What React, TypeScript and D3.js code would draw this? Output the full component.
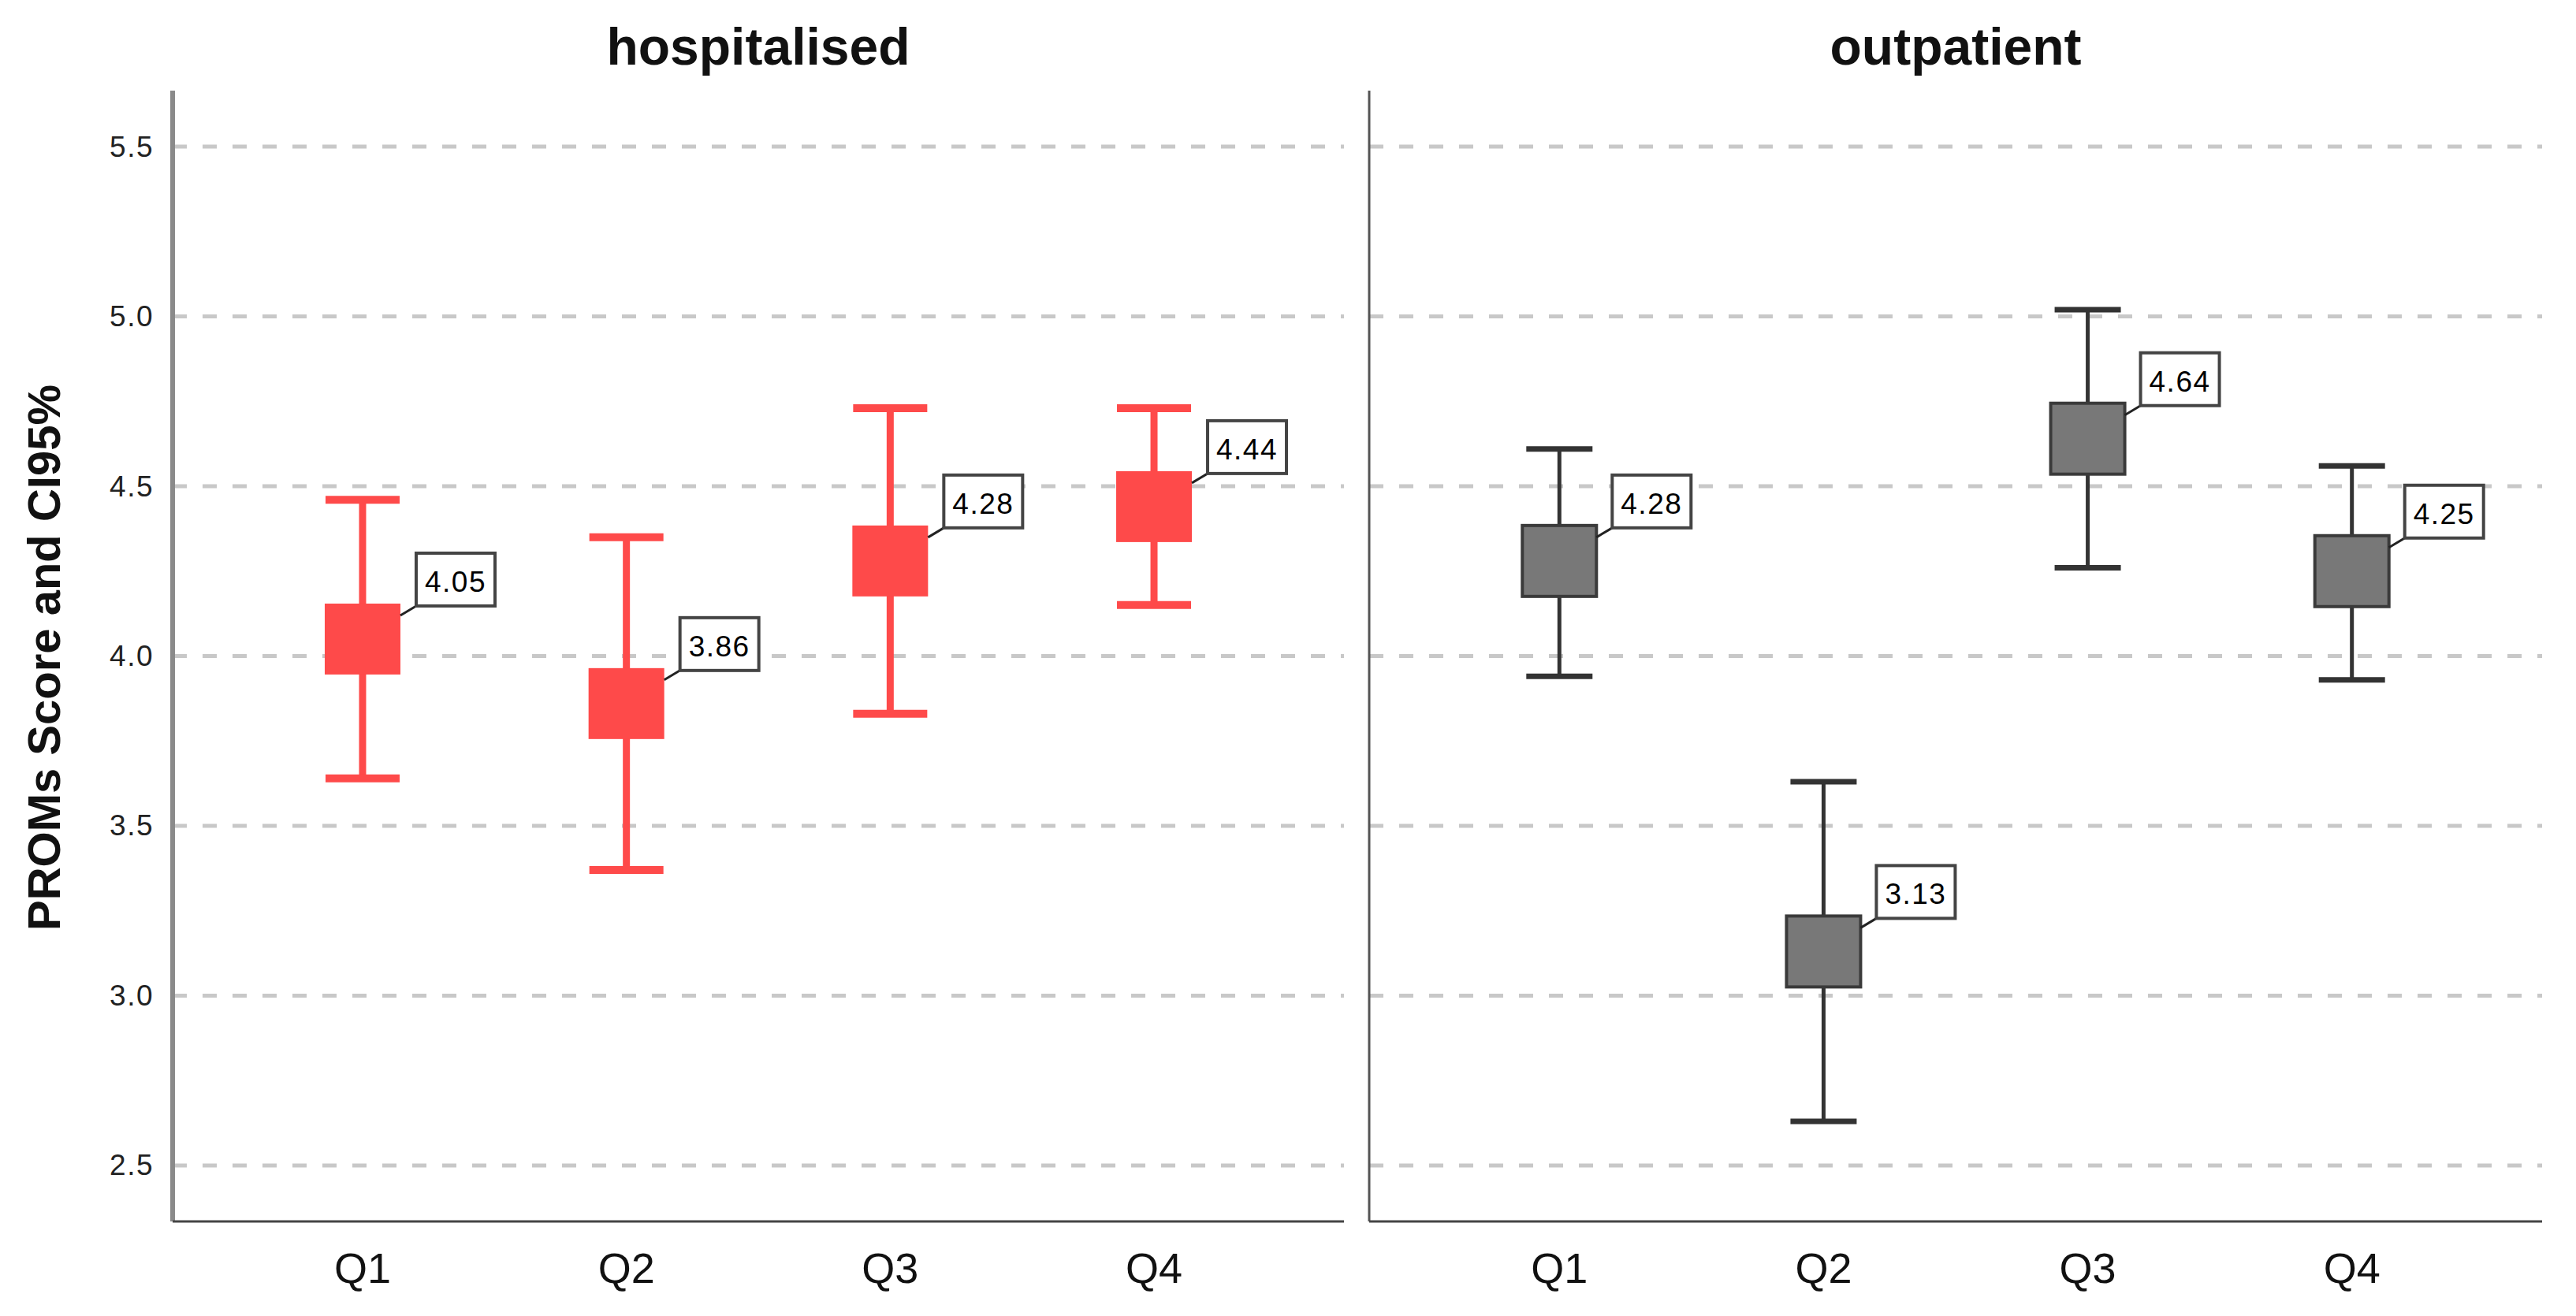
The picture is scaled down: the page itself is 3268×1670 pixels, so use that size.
import React, { useEffect } from 'react';
import * as d3 from 'd3';

const quarters = ['Q1', 'Q2', 'Q3', 'Q4'];
const yTicks = [2.5, 3.0, 3.5, 4.0, 4.5, 5.0, 5.5];

// hospitalised
const hospMean = [4.05, 3.86, 4.28, 4.44];
const hospLow = [3.64, 3.37, 3.83, 4.15];
const hospHigh = [4.46, 4.35, 4.73, 4.73];

// outpatient
const outMean = [4.28, 3.13, 4.64, 4.25];
const outLow = [3.94, 2.63, 4.26, 3.93];
const outHigh = [4.61, 3.63, 5.02, 4.56];

const W = 3268;
const H = 1670;
const top = 115;
const bottom = 1550;
const font = 'Arial, "Liberation Sans", sans-serif';

const panels = [
  {
    title: 'hospitalised', x0: 219, x1: 1705, mean: hospMean, low: hospLow, high: hospHigh,
    fill: '#fe4a4a', stroke: '#fe4a4a', stem: 9, capW: 94, capT: 10, boxW: 96, boxStroke: 0,
    axisColor: '#8a8a8a', axisW: 6,
  },
  {
    title: 'outpatient', x0: 1737, x1: 3225, mean: outMean, low: outLow, high: outHigh,
    fill: '#787878', stroke: '#333333', stem: 5, capW: 84, capT: 7, boxW: 94, boxStroke: 4,
    axisColor: '#555555', axisW: 3,
  },
];

const y = d3.scaleLinear().domain([2.335, 5.665]).range([bottom, top]);
const boxH = 90;

function Panel({ p, showTicks }: { p: typeof panels[number]; showTicks: boolean }) {
  const x = d3.scalePoint<string>().domain(quarters).range([p.x0, p.x1]).padding(0.72);
  return (
    <g>
      {yTicks.map(t => (
        <line key={'g' + t} x1={p.x0} x2={p.x1} y1={y(t)} y2={y(t)}
          stroke="#c8c8c8" strokeWidth={5} strokeDasharray="18 20" />
      ))}
      {showTicks && yTicks.map(t => (
        <text key={'t' + t} x={p.x0 - 24} y={y(t)} textAnchor="end" dominantBaseline="central"
          fontFamily={font} fontSize={37} fill="#222" letterSpacing={1.5}>{t.toFixed(1)}</text>
      ))}
      <line x1={p.x0} x2={p.x0} y1={top} y2={bottom} stroke={p.axisColor} strokeWidth={p.axisW} />
      <line x1={p.x0} x2={p.x1} y1={bottom} y2={bottom} stroke="#444" strokeWidth={3} />
      <text x={(p.x0 + p.x1) / 2} y={82} textAnchor="middle" fontFamily={font} fontWeight="bold"
        fontSize={66} fill="#111">{p.title}</text>
      {quarters.map((q, i) => {
        const cx = x(q) as number;
        const cy = y(p.mean[i]);
        const bx = cx - p.boxW / 2;
        const by = cy - boxH / 2;
        const lx = bx + p.boxW + 20;
        const lb = by + 3;
        return (
          <g key={q}>
            <text x={cx} y={1628} textAnchor="middle" fontFamily={font} fontSize={54} fill="#111">{q}</text>
            <line x1={cx} x2={cx} y1={y(p.high[i])} y2={y(p.low[i])} stroke={p.stroke} strokeWidth={p.stem} />
            <line x1={cx - p.capW / 2} x2={cx + p.capW / 2} y1={y(p.high[i])} y2={y(p.high[i])}
              stroke={p.stroke} strokeWidth={p.capT} />
            <line x1={cx - p.capW / 2} x2={cx + p.capW / 2} y1={y(p.low[i])} y2={y(p.low[i])}
              stroke={p.stroke} strokeWidth={p.capT} />
            <rect x={bx} y={by} width={p.boxW} height={boxH} fill={p.fill}
              stroke={p.boxStroke ? '#3a3a3a' : 'none'} strokeWidth={p.boxStroke} />
            <line x1={bx + p.boxW} y1={by + 15} x2={lx} y2={lb} stroke="#222" strokeWidth={3} />
            <rect x={lx} y={lb - 67} width={100} height={67} fill="#fff" stroke="#444" strokeWidth={4} />
            <text x={lx + 50} y={lb - 18} textAnchor="middle" fontFamily={font} fontSize={37}
              fill="#000" letterSpacing={1.5}>{p.mean[i].toFixed(2)}</text>
          </g>
        );
      })}
    </g>
  );
}

export default function App() {
  useEffect(() => {
    document.body.style.margin = '0';
  }, []);
  return (
    <svg width={W} height={H} style={{ display: 'block', background: '#fff' }}>
      <rect width={W} height={H} fill="#fff" />
      {panels.map((p, i) => <Panel key={p.title} p={p} showTicks={i === 0} />)}
      <text transform={`translate(55, ${(top + bottom) / 2 + 2}) rotate(-90)`} textAnchor="middle"
        dominantBaseline="central" fontFamily={font} fontWeight="bold" fontSize={58} fill="#111">
        PROMs Score and CI95%
      </text>
    </svg>
  );
}
